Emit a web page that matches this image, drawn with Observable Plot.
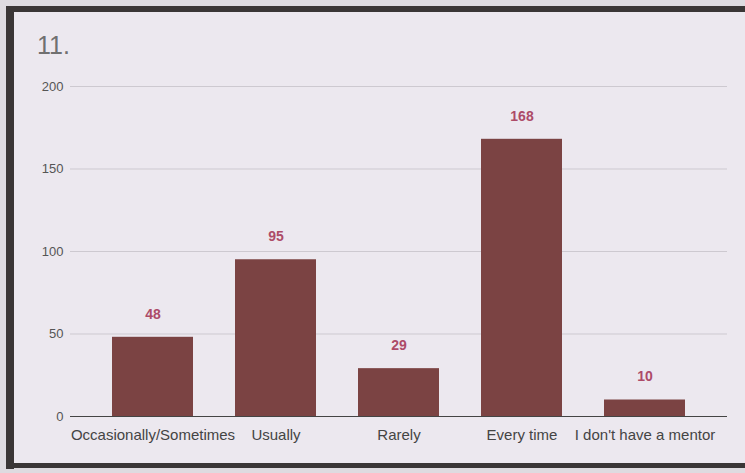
<!DOCTYPE html>
<html>
<head>
<meta charset="utf-8">
<script src="https://cdn.jsdelivr.net/npm/d3@7"></script>
<script src="https://cdn.jsdelivr.net/npm/@observablehq/plot@0.6"></script>
<style>
  html, body { margin: 0; padding: 0; overflow: hidden; background: #dedbe0; }
  body { width: 745px; height: 473px; position: relative; font-family: "Liberation Sans", Arial, sans-serif; }
  .blk { position: absolute; }
  #frame { left: 14px; top: 12px; width: 731px; height: 452px; background: #ece8ef; }
  #bl { left: 6px; top: 6px; width: 8px; height: 463px; background: #3a3636; }
  #bt { left: 6px; top: 6px; width: 739px; height: 6px; background: #3a3636; }
  #bb { left: 6px; top: 463px; width: 739px; height: 5px; background: #3a3636; }
  #title { position: absolute; left: 37px; top: 31px; font-size: 25px; color: #707070; font-family: "Liberation Sans", Arial, sans-serif; }
  #chart { position: absolute; left: 0; top: 0; width: 745px; height: 473px; }
  #chart svg { display: block; }
</style>
</head>
<body>
<div class="blk" id="frame"></div>
<div class="blk" id="bl"></div>
<div class="blk" id="bt"></div>
<div class="blk" id="bb"></div>
<div id="title">11.</div>
<div id="chart"></div>
<script>
const categories = ["Occasionally/Sometimes", "Usually", "Rarely", "Every time", "I don't have a mentor"];
const counts = [48, 95, 29, 168, 10];
const yTicks = [0, 50, 100, 150, 200];

const data = categories.map((c, i) => ({category: c, count: counts[i]}));

const chart = Plot.plot({
  width: 745,
  height: 473,
  marginLeft: 70,
  marginRight: 18,
  marginTop: 86,
  marginBottom: 57,
  style: {background: "transparent", fontFamily: "'Liberation Sans', Arial, sans-serif", overflow: "visible"},
  x: {domain: categories, padding: 0.34, label: null},
  y: {domain: [0, 200], label: null},
  marks: [
    Plot.gridY(yTicks, {stroke: "#cdc9d0", strokeOpacity: 1}),
    Plot.axisY(yTicks, {tickSize: 0, tickPadding: 7, fontSize: 13, fill: "#555", label: null}),
    Plot.axisX({tickSize: 0, tickPadding: 13, fontSize: 15, fill: "#444", label: null}),
    Plot.barY(data, {x: "category", y: "count", fill: "#7b4343"}),
    Plot.ruleY([0], {stroke: "#444", strokeWidth: 1.2}),
    Plot.text(data, {x: "category", y: "count", text: d => String(d.count), dy: -23, fill: "#ad4b68", fontSize: 14, fontWeight: 600})
  ]
});
document.getElementById("chart").appendChild(chart);
</script>
</body>
</html>
